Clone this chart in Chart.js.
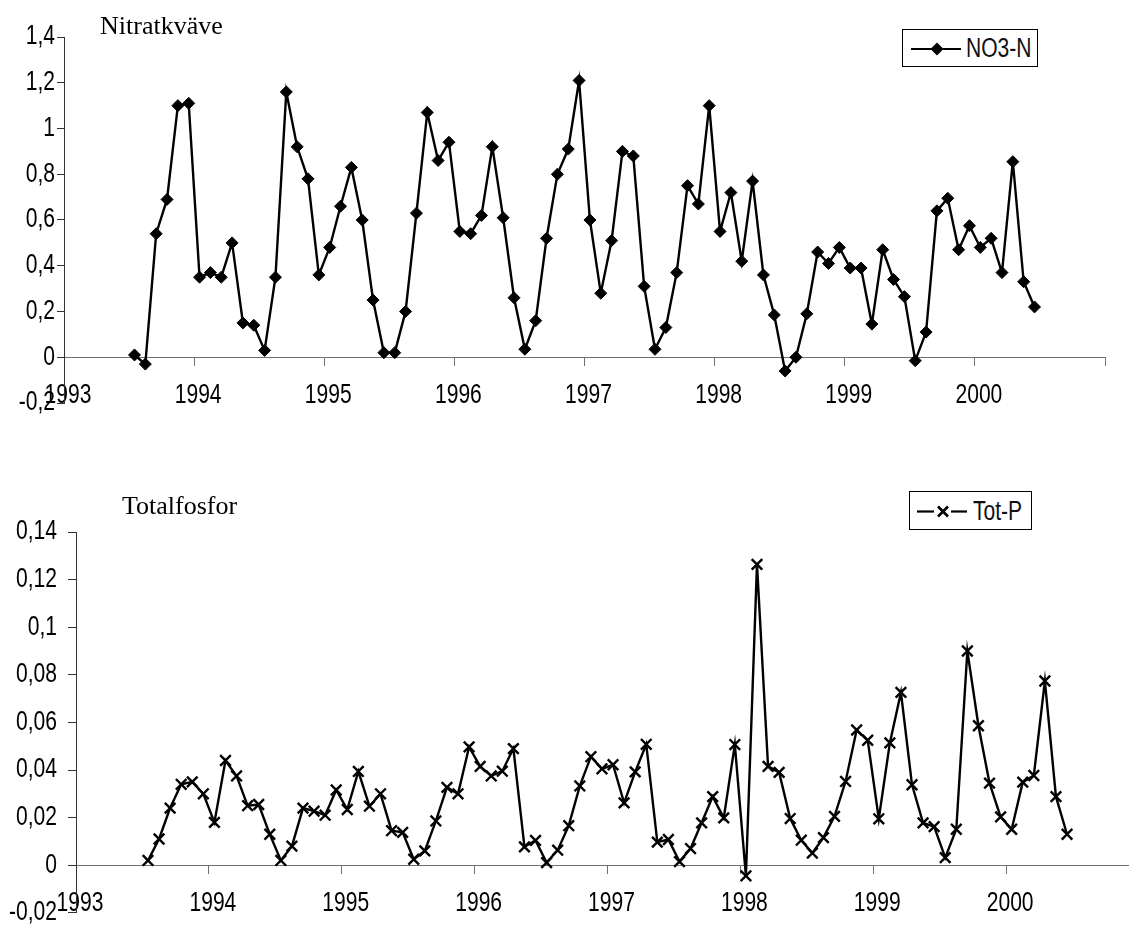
<!DOCTYPE html>
<html lang="sv">
<head>
<meta charset="utf-8">
<title>Nitratkväve och totalfosfor 1993–2000</title>
<script src="https://cdn.jsdelivr.net/npm/chart.js@4.4.1/dist/chart.umd.min.js"></script>
<style>
  html, body { margin: 0; padding: 0; background: #fff; width: 1129px; height: 928px; overflow: hidden; }
  #page { position: relative; width: 1129px; height: 928px; overflow: hidden; }
  canvas.panel { position: absolute; left: 0; }
  .title { position: absolute; font-family: 'Liberation Serif', 'Times New Roman', serif; font-size: 26px; line-height: 26px; color: #000; white-space: nowrap; }
  .legend { position: absolute; box-sizing: border-box; border: 1px solid #000; background: #fff; }
  .legend svg { position: absolute; left: 0; top: 0; }
  .legend span { position: absolute; top: 0; font-family: 'Liberation Sans', Arial, sans-serif; font-size: 27px; color: #111; white-space: nowrap; transform: scaleX(0.78); transform-origin: 0 50%; }
</style>
</head>
<body>
<div id="page">
  <canvas id="nitrateChart" class="panel" width="1129" height="440" style="top:0;width:1129px;height:440px"></canvas>
  <canvas id="phosphorusChart" class="panel" width="1160" height="500" style="top:440px;width:1160px;height:500px"></canvas>

  <div class="title" style="left:100px;top:13px">Nitratkväve</div>
  <div class="title" style="left:122px;top:493px">Totalfosfor</div>

  <div class="legend" style="left:902px;top:29px;width:136px;height:38px">
    <svg width="70" height="36" viewBox="0 0 70 36">
      <line x1="8" y1="19" x2="58" y2="19" stroke="#000" stroke-width="2.2"/>
      <polygon points="34,12.5 40.5,19 34,25.5 27.5,19" fill="#000"/>
    </svg>
    <span style="left:63px;line-height:37px">NO3-N</span>
  </div>

  <div class="legend" style="left:909px;top:491px;width:123px;height:39px">
    <svg width="70" height="37" viewBox="0 0 70 37">
      <line x1="7" y1="19.5" x2="24" y2="19.5" stroke="#000" stroke-width="2.2"/>
      <line x1="41" y1="19.5" x2="57" y2="19.5" stroke="#000" stroke-width="2.2"/>
      <line x1="28" y1="14.5" x2="38" y2="24.5" stroke="#000" stroke-width="2.6"/>
      <line x1="38" y1="14.5" x2="28" y2="24.5" stroke="#000" stroke-width="2.6"/>
    </svg>
    <span style="left:63px;line-height:38px">Tot-P</span>
  </div>
</div>

<script>
// Monthly samples, July 1993 – June 2000
const sampleMonths = [
  '1993-07','1993-08','1993-09','1993-10','1993-11','1993-12',
  '1994-01','1994-02','1994-03','1994-04','1994-05','1994-06','1994-07','1994-08','1994-09','1994-10','1994-11','1994-12',
  '1995-01','1995-02','1995-03','1995-04','1995-05','1995-06','1995-07','1995-08','1995-09','1995-10','1995-11','1995-12',
  '1996-01','1996-02','1996-03','1996-04','1996-05','1996-06','1996-07','1996-08','1996-09','1996-10','1996-11','1996-12',
  '1997-01','1997-02','1997-03','1997-04','1997-05','1997-06','1997-07','1997-08','1997-09','1997-10','1997-11','1997-12',
  '1998-01','1998-02','1998-03','1998-04','1998-05','1998-06','1998-07','1998-08','1998-09','1998-10','1998-11','1998-12',
  '1999-01','1999-02','1999-03','1999-04','1999-05','1999-06','1999-07','1999-08','1999-09','1999-10','1999-11','1999-12',
  '2000-01','2000-02','2000-03','2000-04','2000-05','2000-06'
];

// Nitratkväve, NO3-N (mg/l)
const nitrate = [
  0.01, -0.03, 0.54, 0.69, 1.10, 1.11,
  0.35, 0.37, 0.35, 0.50, 0.15, 0.14, 0.03, 0.35, 1.16, 0.92, 0.78, 0.36,
  0.48, 0.66, 0.83, 0.60, 0.25, 0.02, 0.02, 0.20, 0.63, 1.07, 0.86, 0.94,
  0.55, 0.54, 0.62, 0.92, 0.61, 0.26, 0.035, 0.16, 0.52, 0.80, 0.91, 1.21,
  0.60, 0.28, 0.51, 0.90, 0.88, 0.31, 0.035, 0.13, 0.37, 0.75, 0.67, 1.10,
  0.55, 0.72, 0.42, 0.77, 0.36, 0.185, -0.06, 0.00, 0.19, 0.46, 0.41, 0.48,
  0.39, 0.39, 0.145, 0.47, 0.34, 0.265, -0.015, 0.11, 0.64, 0.695, 0.47, 0.575,
  0.48, 0.52, 0.37, 0.855, 0.33, 0.22
];

// Totalfosfor, Tot-P (mg/l)
const totalPhosphorus = [
  0.002, 0.011, 0.024, 0.034, 0.035, 0.030,
  0.018, 0.044, 0.0375, 0.025, 0.0255, 0.013, 0.002, 0.008, 0.024, 0.0227, 0.021, 0.0316,
  0.0234, 0.0394, 0.0248, 0.030, 0.0145, 0.0138, 0.0025, 0.006, 0.0186, 0.0327, 0.030, 0.0497,
  0.0415, 0.0375, 0.0395, 0.049, 0.0077, 0.0104, 0.0011, 0.0063, 0.0166, 0.0333, 0.0456, 0.0405,
  0.0422, 0.0262, 0.0392, 0.0508, 0.0097, 0.0108, 0.0015, 0.007, 0.0178, 0.0288, 0.0199, 0.0507,
  -0.0045, 0.1264, 0.0415, 0.039, 0.0196, 0.0105, 0.0051, 0.0116, 0.0205, 0.0352, 0.0568, 0.0525,
  0.0195, 0.0514, 0.0726, 0.0338, 0.0178, 0.0162, 0.0032, 0.0151, 0.090, 0.0586, 0.0345, 0.0203,
  0.0151, 0.0349, 0.0377, 0.0774, 0.0288, 0.013
];

// Axis ticks and labels
const yearTicks = [1993, 1994, 1995, 1996, 1997, 1998, 1999, 2000, 2001];
const yearLabels = ['1993', '1994', '1995', '1996', '1997', '1998', '1999', '2000', ''];
const nitrateTicks = [-0.2, 0, 0.2, 0.4, 0.6, 0.8, 1, 1.2, 1.4];
const phosphorusTicks = [-0.02, 0, 0.02, 0.04, 0.06, 0.08, 0.1, 0.12, 0.14];

const LABEL_FONT = { family: "'Liberation Sans', Arial, sans-serif", size: 27 };
const LABEL_SQUEEZE = 0.78;   // narrow axis lettering
const INK = '#000';

// Axis labels are set in a narrow face: compress the canvas text horizontally
// around its anchor point so alignment is kept.
const narrowText = {
  id: 'narrowText',
  beforeInit(chart) {
    const ctx = chart.ctx;
    const fill = ctx.fillText.bind(ctx);
    ctx.fillText = function (text, x, y, maxWidth) {
      ctx.save();
      ctx.translate(x, y);
      ctx.scale(LABEL_SQUEEZE, 1);
      if (maxWidth === undefined) fill(text, 0, 0); else fill(text, 0, 0, maxWidth / LABEL_SQUEEZE);
      ctx.restore();
    };
  }
};

// month string -> decimal year at the middle of the month
const monthPosition = s => {
  const [y, m] = s.split('-').map(Number);
  return y + (m - 0.5) / 12;
};
const xPositions = sampleMonths.map(monthPosition);
const commaDecimal = v => String(+Number(v).toFixed(3)).replace('.', ',');

function buildChart(canvasId, label, values, yTicks, style, frame) {
  const ctx = document.getElementById(canvasId);
  return new Chart(ctx, {
    type: 'line',
    plugins: [narrowText],
    data: {
      datasets: [{
        label: label,
        data: values.map((v, i) => ({ x: xPositions[i], y: v })),
        borderColor: INK,
        borderWidth: 2.4,
        tension: 0,
        fill: false,
        pointStyle: style.pointStyle,
        pointRadius: style.pointRadius,
        pointBorderWidth: style.pointBorderWidth,
        pointBackgroundColor: INK,
        pointBorderColor: INK,
        clip: false
      }]
    },
    options: {
      responsive: false,
      animation: false,
      devicePixelRatio: 1,
      layout: { padding: frame.padding },
      plugins: { legend: { display: false }, tooltip: { enabled: false } },
      scales: {
        x: {
          type: 'linear',
          position: { y: 0 },
          min: 1993,
          max: 2001,
          afterBuildTicks: s => { s.ticks = yearTicks.map(v => ({ value: v })); },
          grid: { drawOnChartArea: false, drawTicks: true, tickLength: 8, color: '#707070', lineWidth: 1 },
          border: { display: true, color: '#707070', width: 1 },
          ticks: {
            autoSkip: false, maxRotation: 0, minRotation: 0,
            padding: frame.xLabelPadding, labelOffset: 4,
            color: INK, font: LABEL_FONT,
            callback: (v, i) => yearLabels[i]
          }
        },
        y: {
          type: 'linear',
          position: 'left',
          min: yTicks[0],
          max: yTicks[yTicks.length - 1],
          afterBuildTicks: s => { s.ticks = yTicks.map(v => ({ value: v })); },
          afterFit: s => { s.width = frame.yAxisWidth; },
          grid: { drawOnChartArea: false, drawTicks: true, tickLength: frame.yTickLength, color: '#333', lineWidth: 1 },
          border: { display: true, color: '#333', width: 1 },
          ticks: { padding: frame.yLabelPadding, color: INK, font: LABEL_FONT, callback: v => commaDecimal(v) }
        }
      }
    }
  });
}

buildChart('nitrateChart', 'NO3-N', nitrate, nitrateTicks,
  { pointStyle: 'rectRot', pointRadius: 6, pointBorderWidth: 1 },
  { padding: { left: 0, right: 24, top: 37, bottom: 37 }, yAxisWidth: 64, yTickLength: 7, yLabelPadding: 2, xLabelPadding: 14 });

buildChart('phosphorusChart', 'Tot-P', totalPhosphorus, phosphorusTicks,
  { pointStyle: 'crossRot', pointRadius: 7.5, pointBorderWidth: 2.4 },
  { padding: { left: 0, right: 21, top: 92, bottom: 19 }, yAxisWidth: 76, yTickLength: 8, yLabelPadding: 11, xLabelPadding: 14 });
</script>
</body>
</html>
